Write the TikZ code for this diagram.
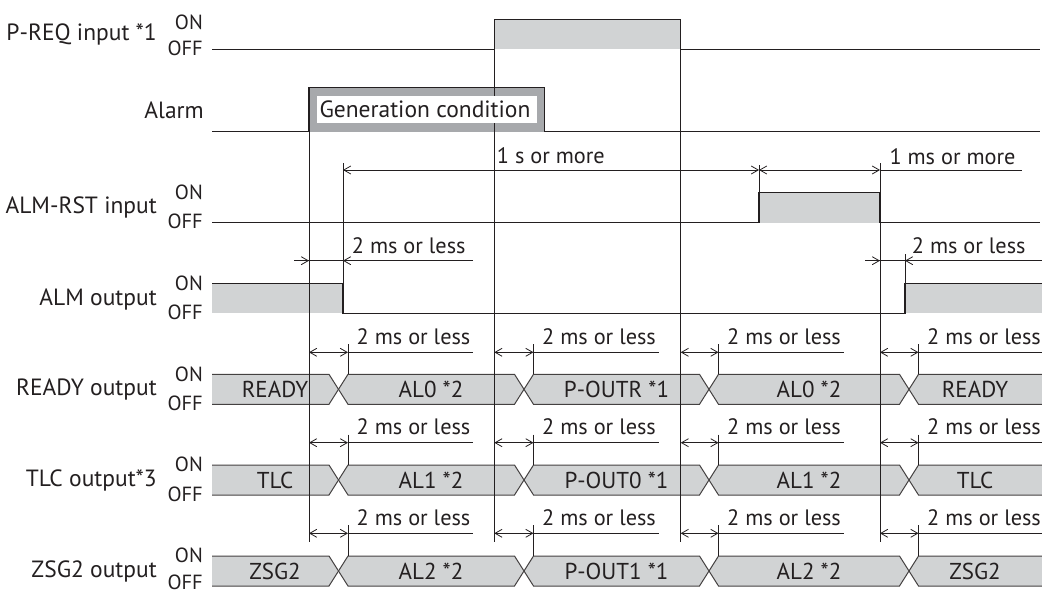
\documentclass[tikz,border=0pt]{standalone}
\usepackage{fontspec}
\setmainfont{PT Sans}
\usetikzlibrary{arrows.meta}
\definecolor{lgray}{HTML}{D1D3D4}
\definecolor{mgray}{HTML}{A7A9AC}
\definecolor{ink}{HTML}{231F20}
\tikzset{
  sig/.style={draw=ink, line width=1.3pt},
  guide/.style={draw=ink, line width=0.9pt},
  dim/.style={draw=ink, line width=0.8pt},
  busfill/.style={fill=lgray},
  busline/.style={draw=ink!85, line width=1pt},
  lbl/.style={anchor=base east, inner sep=0pt, text=ink, font=\fontsize{23.5}{26}\selectfont},
  onoff/.style={anchor=base east, inner sep=0pt, text=ink, font=\fontsize{20.5}{24}\selectfont},
  txt/.style={anchor=base west, inner sep=0pt, text=ink, font=\fontsize{22.3}{26}\selectfont},
  ctxt/.style={anchor=base, inner sep=0pt, text=ink, font=\fontsize{23}{26}\selectfont},
  >={Straight Barb[length=7pt,width=8pt]}
}
\newcommand\busrow[8]{%
  \pgfmathsetmacro\bM{#1+15}\pgfmathsetmacro\bB{#1+30}%
  \fill[busfill] (212,#1)--(329,#1)--(338.5,\bM)--(329,\bB)--(212,\bB)--cycle;
  \draw[busline] (212,#1)--(329,#1)--(338.5,\bM)--(329,\bB)--(212,\bB);
  \filldraw[busfill,busline] (338.5,\bM)--(348,#1)--(514.5,#1)--(524,\bM)--(514.5,\bB)--(348,\bB)--cycle;
  \filldraw[busfill,busline] (524,\bM)--(533.5,#1)--(699.5,#1)--(709,\bM)--(699.5,\bB)--(533.5,\bB)--cycle;
  \filldraw[busfill,busline] (709,\bM)--(718.5,#1)--(899.5,#1)--(909,\bM)--(899.5,\bB)--(718.5,\bB)--cycle;
  \fill[busfill] (1042,#1)--(918.5,#1)--(909,\bM)--(918.5,\bB)--(1042,\bB)--cycle;
  \draw[busline] (1042,#1)--(918.5,#1)--(909,\bM)--(918.5,\bB)--(1042,\bB);
  \node[ctxt] (#3a) at (275,{\bM+8}) {#4};
  \node[ctxt] (#3b) at (431,{\bM+8}) {#5};
  \node[ctxt] (#3c) at (616.5,{\bM+8}) {#6};
  \node[ctxt] (#3d) at (809,{\bM+8}) {#7};
  \node[ctxt] (#3e) at (975,{\bM+8}) {#8};
  \foreach \g/\k [count=\i] in {309/348, 494.3/533.5, 680.7/718.5, 880/918.5}{
    \draw[dim,<->] (\g,#2)--(\k,#2);
    \draw[dim] (\k,#2)--({min(\k+125,1042)},#2);
    \draw[dim] (\k,{#2-8})--(\k,#1);
    \node[txt] (#3dim\i) at ({\k+8.5},{#2-8}) {2 ms or less};
  }
}
\begin{document}
\begin{tikzpicture}[x=1pt,y=-1pt,line join=miter]
\useasboundingbox (0,0) rectangle (1042,594);

% ---- fills
\fill[lgray] (494.3,19.3) rectangle (680.7,49.3);
\fill[lgray] (759,192.7) rectangle (880,222.7);
\fill[lgray] (212,283.3) rectangle (343,313.3);
\fill[lgray] (905,283.3) rectangle (1042,313.3);
\fill[mgray] (309,87.3) rectangle (544.3,131.7);

% ---- bus rows
\busrow{374.3}{352.3}{rdy}{READY}{AL0 *2}{P-OUTR *1}{AL0 *2}{READY}
\busrow{465}{442.7}{tlc}{TLC}{AL1 *2}{P-OUT0 *1}{AL1 *2}{TLC}
\busrow{556}{533.3}{zsg}{ZSG2}{AL2 *2}{P-OUT1 *1}{AL2 *2}{ZSG2}

% ---- signals
\draw[sig] (212,49.3)--(494.3,49.3)--(494.3,19.3)--(680.7,19.3)--(680.7,49.3)--(1040,49.3);
\draw[sig] (212,131.7)--(309,131.7)--(309,87.3)--(544.3,87.3)--(544.3,131.7)--(1040,131.7);
\draw[sig] (212,222.7)--(759,222.7)--(759,192.7)--(880,192.7)--(880,222.7)--(1040,222.7);
\draw[sig] (212,283.3)--(343,283.3)--(343,313.3)--(905,313.3)--(905,283.3)--(1042,283.3);

% ---- guide lines
\draw[guide] (309,131.7)--(309,542);
\draw[guide] (494.3,49.3)--(494.3,542);
\draw[guide] (680.7,49.3)--(680.7,542);
\draw[guide] (880,163)--(880,542);
\draw[guide] (343,163)--(343,283.3);
\draw[guide] (759,165)--(759,192.7);
\draw[guide] (905,254)--(905,283.3);

% ---- Alarm box inner
\fill[white] (316.7,96) rectangle (536.7,122.7);
\node[txt, font=\fontsize{23.5}{26}\selectfont] (gen) at (319.3,117.7) {Generation condition};

% ---- 1 s / 1 ms dimensions
\draw[dim,<->] (343,170)--(759,170);
\draw[dim,<->] (759,170)--(880,170);
\draw[dim] (880,170)--(1022,170);
\node[txt] (ones) at (496.7,163) {1 s or more};
\node[txt] (onems) at (889.3,164) {1 ms or more};

% ---- ALM output dimensions
\draw[dim] (294,260.7)--(473,260.7);
\draw[dim,->] (294,260.7)--(309,260.7);
\draw[dim,->] (473,260.7)--(343,260.7);
\node[txt] (almd1) at (351.7,253) {2 ms or less};
\draw[dim] (865,260.7)--(1042,260.7);
\draw[dim,->] (865,260.7)--(880,260.7);
\draw[dim,->] (1042,260.7)--(905,260.7);
\node[txt] (almd2) at (911.7,253) {2 ms or less};

% ---- row labels
\node[lbl] (l1) at (157,40.7) {P-REQ input *1};
\node[onoff] (l1on) at (203,29.3) {ON};
\node[onoff] (l1off) at (203,55.7) {OFF};
\node[lbl] (l2) at (204,118) {Alarm};
\node[lbl] (l3) at (157,213.7) {ALM-RST input};
\node[onoff] (l3on) at (203,199.4) {ON};
\node[onoff] (l3off) at (203,228.7) {OFF};
\node[lbl] (l4) at (157,305) {ALM output};
\node[onoff] (l4on) at (203,290) {ON};
\node[onoff] (l4off) at (203,319.3) {OFF};
\node[lbl] (l5) at (157,395.3) {READY output};
\node[onoff] (l5on) at (203,381) {ON};
\node[onoff] (l5off) at (203,410.3) {OFF};
\node[lbl] (l6) at (157,486) {TLC output*3};
\node[onoff] (l6on) at (203,471.7) {ON};
\node[onoff] (l6off) at (203,501) {OFF};
\node[lbl] (l7) at (157,577) {ZSG2 output};
\node[onoff] (l7on) at (203,562.7) {ON};
\node[onoff] (l7off) at (203,589) {OFF};
\end{tikzpicture}
\end{document}
